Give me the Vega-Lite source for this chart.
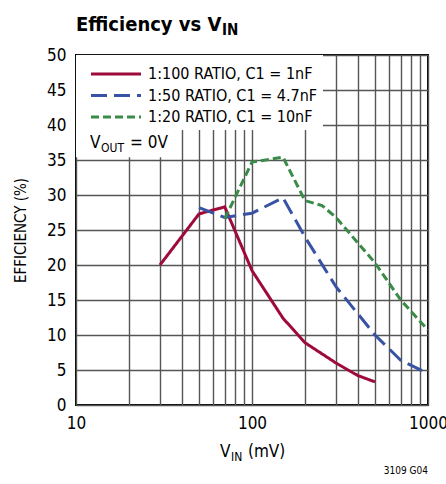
{
  "$schema": "https://vega.github.io/schema/vega-lite/v6.json",
  "width": 352,
  "height": 350,
  "autosize": {"type": "none"},
  "padding": {"left": 76, "top": 55, "right": 18, "bottom": 79},
  "background": "white",
  "config": {
    "font": "Liberation Sans Narrow, DejaVu Sans Condensed, sans-serif",
    "view": {"stroke": "black", "strokeWidth": 2},
    "axis": {
      "grid": true,
      "gridColor": "#555555",
      "gridWidth": 1.4,
      "ticks": false,
      "domain": false,
      "labelFontSize": 17,
      "labelColor": "black",
      "labelPadding": 10,
      "labelOverlap": false
    },
    "axisX": {"labelFlush": false},
    "axisY": {"titleFontSize": 15, "titleFontWeight": "normal", "titleColor": "black", "titlePadding": 18}
  },
  "title": {
    "text": "Efficiency vs V",
    "anchor": "start",
    "frame": "group",
    "fontSize": 20,
    "fontWeight": "bold",
    "color": "black",
    "offset": -12
  },
  "layer": [
    {
      "data": {
        "values": [
          {"series": "1:100 RATIO, C1 = 1nF", "vin": 30, "eff": 20},
          {"series": "1:100 RATIO, C1 = 1nF", "vin": 50, "eff": 27.3},
          {"series": "1:100 RATIO, C1 = 1nF", "vin": 70, "eff": 28.3},
          {"series": "1:100 RATIO, C1 = 1nF", "vin": 100, "eff": 19.2},
          {"series": "1:100 RATIO, C1 = 1nF", "vin": 150, "eff": 12.4},
          {"series": "1:100 RATIO, C1 = 1nF", "vin": 200, "eff": 8.9},
          {"series": "1:100 RATIO, C1 = 1nF", "vin": 300, "eff": 6.0},
          {"series": "1:100 RATIO, C1 = 1nF", "vin": 400, "eff": 4.2},
          {"series": "1:100 RATIO, C1 = 1nF", "vin": 500, "eff": 3.3},
          {"series": "1:50 RATIO, C1 = 4.7nF", "vin": 50, "eff": 28.2},
          {"series": "1:50 RATIO, C1 = 4.7nF", "vin": 70, "eff": 26.8},
          {"series": "1:50 RATIO, C1 = 4.7nF", "vin": 100, "eff": 27.4},
          {"series": "1:50 RATIO, C1 = 4.7nF", "vin": 150, "eff": 29.6},
          {"series": "1:50 RATIO, C1 = 4.7nF", "vin": 200, "eff": 24},
          {"series": "1:50 RATIO, C1 = 4.7nF", "vin": 300, "eff": 16.9},
          {"series": "1:50 RATIO, C1 = 4.7nF", "vin": 500, "eff": 10},
          {"series": "1:50 RATIO, C1 = 4.7nF", "vin": 700, "eff": 6.4},
          {"series": "1:50 RATIO, C1 = 4.7nF", "vin": 1000, "eff": 4.5},
          {"series": "1:20 RATIO, C1 = 10nF", "vin": 70, "eff": 26.6},
          {"series": "1:20 RATIO, C1 = 10nF", "vin": 100, "eff": 34.7},
          {"series": "1:20 RATIO, C1 = 10nF", "vin": 150, "eff": 35.4},
          {"series": "1:20 RATIO, C1 = 10nF", "vin": 200, "eff": 29.2},
          {"series": "1:20 RATIO, C1 = 10nF", "vin": 250, "eff": 28.5},
          {"series": "1:20 RATIO, C1 = 10nF", "vin": 300, "eff": 26.8},
          {"series": "1:20 RATIO, C1 = 10nF", "vin": 500, "eff": 20.3},
          {"series": "1:20 RATIO, C1 = 10nF", "vin": 700, "eff": 15},
          {"series": "1:20 RATIO, C1 = 10nF", "vin": 1000, "eff": 10.7}
        ]
      },
      "mark": {"type": "line", "strokeWidth": 3, "clip": true},
      "encoding": {
        "x": {
          "field": "vin",
          "type": "quantitative",
          "scale": {"type": "log", "domain": [10, 1000]},
          "axis": {
            "values": [10, 20, 30, 40, 50, 60, 70, 80, 90, 100, 200, 300, 400, 500, 600, 700, 800, 900, 1000],
            "labelExpr": "datum.value == 10 || datum.value == 100 || datum.value == 1000 ? format(datum.value, 'd') : ''",
            "title": null
          }
        },
        "y": {
          "field": "eff",
          "type": "quantitative",
          "scale": {"domain": [0, 50]},
          "axis": {
            "values": [0, 5, 10, 15, 20, 25, 30, 35, 40, 45, 50],
            "title": "EFFICIENCY (%)"
          }
        },
        "color": {
          "field": "series",
          "type": "nominal",
          "sort": ["1:100 RATIO, C1 = 1nF", "1:50 RATIO, C1 = 4.7nF", "1:20 RATIO, C1 = 10nF"],
          "scale": {
            "domain": ["1:100 RATIO, C1 = 1nF", "1:50 RATIO, C1 = 4.7nF", "1:20 RATIO, C1 = 10nF"],
            "range": ["#9E0B3B", "#3852A4", "#3A8B47"]
          },
          "legend": {
            "title": " ",
            "titleFontSize": 6,
            "titlePadding": 0,
            "orient": "top-left",
            "offset": 0,
            "fillColor": "white",
            "padding": 5,
            "symbolType": "M-5,0L5,0",
            "symbolSize": 100,
            "symbolStrokeWidth": 3,
            "symbolOffset": 27,
            "labelFontSize": 16,
            "labelColor": "black",
            "rowPadding": 5.5,
            "labelOffset": 24,
            "labelLimit": 300
          }
        },
        "strokeDash": {
          "field": "series",
          "type": "nominal",
          "sort": ["1:100 RATIO, C1 = 1nF", "1:50 RATIO, C1 = 4.7nF", "1:20 RATIO, C1 = 10nF"],
          "scale": {
            "domain": ["1:100 RATIO, C1 = 1nF", "1:50 RATIO, C1 = 4.7nF", "1:20 RATIO, C1 = 10nF"],
            "range": [[1, 0], [16, 7], [8, 4]]
          },
          "legend": {
            "title": " ",
            "titleFontSize": 6,
            "titlePadding": 0,
            "orient": "top-left",
            "offset": 0,
            "fillColor": "white",
            "padding": 5,
            "symbolType": "M-5,0L5,0",
            "symbolSize": 100,
            "symbolStrokeWidth": 3,
            "symbolOffset": 27,
            "labelFontSize": 16,
            "labelColor": "black",
            "rowPadding": 5.5,
            "labelOffset": 24,
            "labelLimit": 300
          }
        }
      }
    },
    {
      "data": {"values": [{}]},
      "mark": {"type": "rect", "fill": "white"},
      "encoding": {
        "x": {"datum": 10, "type": "quantitative", "axis": {"values": [10, 20, 30, 40, 50, 60, 70, 80, 90, 100, 200, 300, 400, 500, 600, 700, 800, 900, 1000]}},
        "x2": {"datum": 36},
        "y": {"datum": 35.4, "type": "quantitative", "axis": {"values": [0, 5, 10, 15, 20, 25, 30, 35, 40, 45, 50]}},
        "y2": {"datum": 40}
      }
    },
    {
      "data": {"values": [{}]},
      "mark": {"type": "text", "text": "V", "align": "left", "baseline": "alphabetic", "fontSize": 17, "dx": 14, "dy": 93, "color": "black"},
      "encoding": {"x": {"datum": 10, "type": "quantitative"}, "y": {"datum": 50, "type": "quantitative", "axis": {"values": [0, 5, 10, 15, 20, 25, 30, 35, 40, 45, 50]}}}
    },
    {
      "data": {"values": [{}]},
      "mark": {"type": "text", "text": "OUT", "align": "left", "baseline": "alphabetic", "fontSize": 12, "dx": 25, "dy": 97, "color": "black"},
      "encoding": {"x": {"datum": 10, "type": "quantitative"}, "y": {"datum": 50, "type": "quantitative", "axis": {"values": [0, 5, 10, 15, 20, 25, 30, 35, 40, 45, 50]}}}
    },
    {
      "data": {"values": [{}]},
      "mark": {"type": "text", "text": "= 0V", "align": "left", "baseline": "alphabetic", "fontSize": 17, "dx": 54, "dy": 93, "color": "black"},
      "encoding": {"x": {"datum": 10, "type": "quantitative"}, "y": {"datum": 50, "type": "quantitative", "axis": {"values": [0, 5, 10, 15, 20, 25, 30, 35, 40, 45, 50]}}}
    },
    {
      "data": {"values": [{}]},
      "mark": {"type": "text", "text": "IN", "align": "left", "baseline": "alphabetic", "fontSize": 15, "fontWeight": "bold", "dx": 146, "dy": -20, "color": "black", "clip": false},
      "encoding": {"x": {"datum": 10, "type": "quantitative"}, "y": {"datum": 50, "type": "quantitative", "axis": {"values": [0, 5, 10, 15, 20, 25, 30, 35, 40, 45, 50]}}}
    },
    {
      "data": {"values": [{}]},
      "mark": {"type": "text", "text": "V", "align": "left", "baseline": "alphabetic", "fontSize": 17, "dx": -32, "dy": 52, "color": "black"},
      "encoding": {"x": {"datum": 100, "type": "quantitative"}, "y": {"datum": 0, "type": "quantitative", "axis": {"values": [0, 5, 10, 15, 20, 25, 30, 35, 40, 45, 50]}}}
    },
    {
      "data": {"values": [{}]},
      "mark": {"type": "text", "text": "IN", "align": "left", "baseline": "alphabetic", "fontSize": 12, "dx": -21, "dy": 56, "color": "black"},
      "encoding": {"x": {"datum": 100, "type": "quantitative"}, "y": {"datum": 0, "type": "quantitative", "axis": {"values": [0, 5, 10, 15, 20, 25, 30, 35, 40, 45, 50]}}}
    },
    {
      "data": {"values": [{}]},
      "mark": {"type": "text", "text": "(mV)", "align": "left", "baseline": "alphabetic", "fontSize": 17, "dx": -4, "dy": 52, "color": "black"},
      "encoding": {"x": {"datum": 100, "type": "quantitative"}, "y": {"datum": 0, "type": "quantitative", "axis": {"values": [0, 5, 10, 15, 20, 25, 30, 35, 40, 45, 50]}}}
    },
    {
      "data": {"values": [{}]},
      "mark": {"type": "text", "text": "3109 G04", "align": "right", "baseline": "alphabetic", "fontSize": 10, "dy": 69, "color": "black"},
      "encoding": {"x": {"datum": 1000, "type": "quantitative"}, "y": {"datum": 0, "type": "quantitative", "axis": {"values": [0, 5, 10, 15, 20, 25, 30, 35, 40, 45, 50]}}}
    }
  ]
}
